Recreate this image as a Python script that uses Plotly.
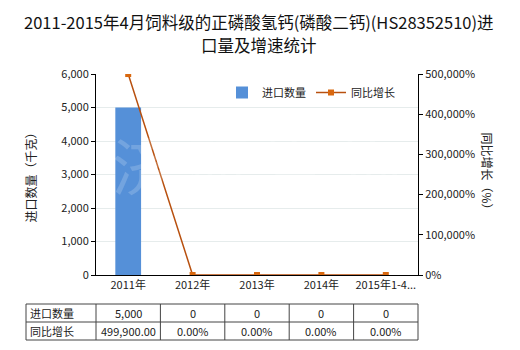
import plotly.graph_objects as go

categories = ["2011年", "2012年", "2013年", "2014年", "2015年1-4..."]
import_qty = [5000, 0, 0, 0, 0]
growth = [499900, 0, 0, 0, 0]
qty_text = ["5,000", "0", "0", "0", "0"]
growth_text = ["499,900.00", "0.00%", "0.00%", "0.00%", "0.00%"]
row_labels = ["进口数量", "同比增长"]
title_lines = ["2011-2015年4月饲料级的正磷酸氢钙(磷酸二钙)(HS28352510)进", "口量及增速统计"]

FONT = "Noto Sans CJK SC"
BAR = "#5590D8"
LINE = "#B8500F"

fig = go.Figure()
fig.add_trace(go.Bar(x=categories, y=import_qty, name="进口数量",
                     marker=dict(color=BAR, line=dict(width=0)), width=0.4, yaxis="y"))
fig.add_trace(go.Scatter(x=categories, y=growth, name="同比增长", mode="lines+markers",
                         line=dict(color=LINE, width=1.5),
                         marker=dict(symbol="square", size=6, color="#D9680F"),
                         yaxis="y2"))

H = 201.0
def py(pix):
    return (275 - pix) / H

def px(pix):
    return (pix - 96) / 322.0

shapes = []
annotations = []
x_left = px(26)
y_rows = [py(304), py(322), py(340)]
for yv in y_rows:
    shapes.append(dict(type="line", xref="paper", yref="paper", x0=x_left, x1=1, y0=yv, y1=yv,
                       line=dict(color="#444", width=1)))
shapes.append(dict(type="line", xref="paper", yref="paper", x0=x_left, x1=x_left, y0=y_rows[0], y1=y_rows[2],
                   line=dict(color="#444", width=1)))
for i in range(len(categories) + 1):
    xv = i / len(categories)
    shapes.append(dict(type="line", xref="paper", yref="paper", x0=xv, x1=xv, y0=y_rows[0], y1=y_rows[2],
                       line=dict(color="#444", width=1)))

for r, lab in enumerate(row_labels):
    annotations.append(dict(xref="paper", yref="paper", x=x_left + 0.005, y=(y_rows[r] + y_rows[r + 1]) / 2,
                            text=lab, showarrow=False, xanchor="left", yanchor="middle",
                            font=dict(family=FONT, size=11, color="#222")))
for i in range(len(categories)):
    xc = (i + 0.5) / len(categories)
    annotations.append(dict(xref="paper", yref="paper", x=xc, y=(y_rows[0] + y_rows[1]) / 2,
                            text=qty_text[i], showarrow=False, xanchor="center", yanchor="middle",
                            font=dict(family=FONT, size=11, color="#222")))
    annotations.append(dict(xref="paper", yref="paper", x=xc, y=(y_rows[1] + y_rows[2]) / 2,
                            text=growth_text[i], showarrow=False, xanchor="center", yanchor="middle",
                            font=dict(family=FONT, size=11, color="#222")))

# title lines
annotations.append(dict(xref="paper", yref="paper", x=px(259), y=py(22), text=title_lines[0],
                        showarrow=False, xanchor="center", yanchor="middle",
                        font=dict(family=FONT, size=16.5, color="#111")))
annotations.append(dict(xref="paper", yref="paper", x=px(259), y=py(45), text=title_lines[1],
                        showarrow=False, xanchor="center", yanchor="middle",
                        font=dict(family=FONT, size=16.5, color="#111")))

# axis titles
annotations.append(dict(xref="paper", yref="paper", x=px(30), y=0.5, text="进口数量（千克）",
                        textangle=-90, showarrow=False, xanchor="center", yanchor="middle",
                        font=dict(family=FONT, size=12, color="#222")))
annotations.append(dict(xref="paper", yref="paper", x=px(487), y=0.5, text="同比增长（%）",
                        textangle=90, showarrow=False, xanchor="center", yanchor="middle",
                        font=dict(family=FONT, size=12, color="#222")))
# watermark
annotations.append(dict(xref="paper", yref="paper", x=0.5, y=0.55, text="济 研 咨 询",
                        showarrow=False, font=dict(family=FONT, size=62, color="rgba(255,255,255,0.18)")))

fig.update_layout(
    width=520, height=350,
    margin=dict(l=96, r=102, t=74, b=75),
    paper_bgcolor="white", plot_bgcolor="white",
    font=dict(family=FONT, size=11, color="#222"),
    showlegend=True,
    legend=dict(orientation="h", x=px(222), y=py(78), xanchor="left", yanchor="top",
                bgcolor="rgba(0,0,0,0)", font=dict(family=FONT, size=11, color="#222"),
                itemwidth=30),
    xaxis=dict(type="category", showline=True, linecolor="black", linewidth=1,
               ticks="", showgrid=False, tickfont=dict(family=FONT, size=11)),
    yaxis=dict(range=[0, 6000], dtick=1000, tickformat=",", showline=True, linecolor="black",
               linewidth=1, ticks="outside", ticklen=4, tickcolor="black",
               gridcolor="#E6ECEC", zeroline=False, tickfont=dict(family=FONT, size=11)),
    yaxis2=dict(range=[0, 500000], dtick=100000, tickformat=",", ticksuffix="%", overlaying="y",
                side="right", showline=True, linecolor="black", linewidth=1, ticks="outside",
                ticklen=4, tickcolor="black", showgrid=False, zeroline=False,
                tickfont=dict(family=FONT, size=11)),
    shapes=shapes, annotations=annotations,
)

fig.write_html("out.html")
